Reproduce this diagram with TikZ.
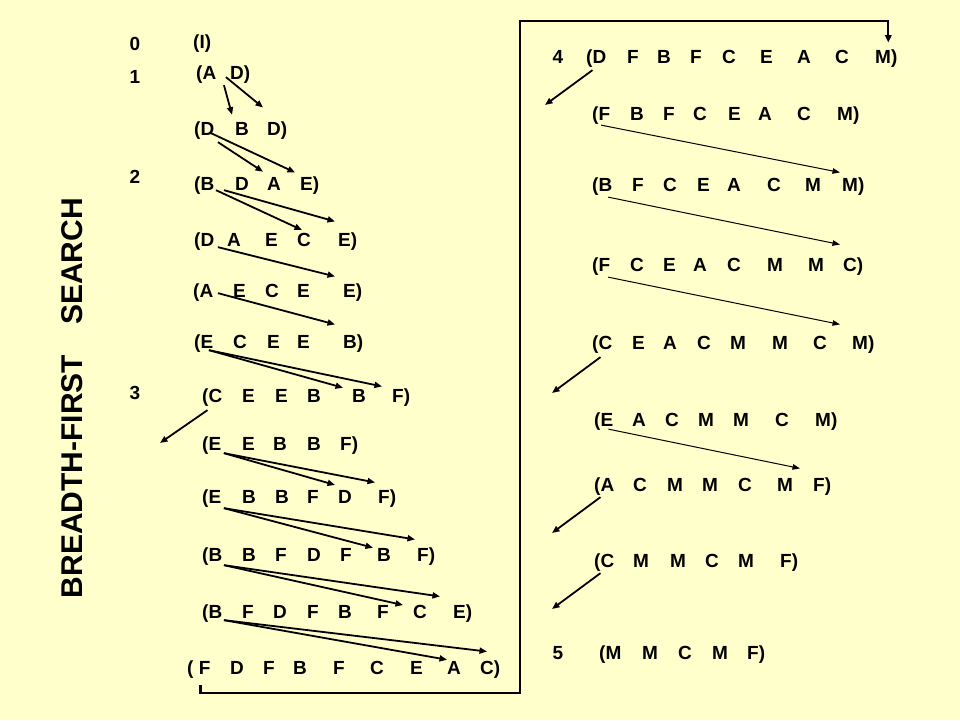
\documentclass[tikz,border=0pt]{standalone}
\usepackage{fontspec}
\setmainfont{Liberation Sans}
\usetikzlibrary{arrows.meta}

\definecolor{slide}{RGB}{255,255,204}

\tikzset{
  letter/.style={inner sep=0pt, anchor=base west, font=\fontsize{19}{21}\selectfont\bfseries},
  level/.style={inner sep=0pt, anchor=base, font=\fontsize{19}{21}\selectfont\bfseries},
  arr/.style={line width=1.8pt, -{Triangle[length=7.5pt,width=6pt]}},
  thinarr/.style={line width=1pt, -{Triangle[length=7.5pt,width=5.5pt]}},
  link/.style={line width=2.2pt, -{Triangle[length=7.5pt,width=6.5pt]}},
}

% one queue: name, baseline, x/letter
\newcommand{\queue}[3]{%
  \foreach \x/\l [count=\i] in {#3}
    \node[letter] (#1-\i) at (\x,#2) {\l};
}

\begin{document}
\begin{tikzpicture}[x=1pt, y=-1pt]
    \useasboundingbox (0,0) rectangle (960,720);
    \fill[slide] (0,0) rectangle (960,720);

    \node[rotate=90, font=\fontsize{30}{32}\selectfont\bfseries] (title) at (72.5,398) {BREADTH-FIRST\quad SEARCH};

    \node[level] (lv0) at (135,50) {0};
    \node[level] (lv1) at (135,83) {1};
    \node[level] (lv2) at (135,183) {2};
    \node[level] (lv3) at (135,399) {3};
    \node[level] (lv4) at (558,63) {4};
    \node[level] (lv5) at (558,659) {5};

    \queue{q0}{48}{193/{(I)}}
    \queue{q1}{79}{196/{(A}, 230/{D)}}
    \queue{q2}{135}{194/{(D}, 235/B, 267/{D)}}
    \queue{q3}{190}{194/{(B}, 235/D, 267/A, 300/{E)}}
    \queue{q4}{246}{194/{(D}, 227/A, 265/E, 297/C, 338/{E)}}
    \queue{q5}{297}{193/{(A}, 233/E, 265/C, 297/E, 343/{E)}}
    \queue{q6}{348}{194/{(E}, 233/C, 267/E, 297/E, 343/{B)}}
    \queue{q7}{402}{202/{(C}, 242/E, 275/E, 307/B, 352/B, 392/{F)}}
    \queue{q8}{450}{202/{(E}, 242/E, 273/B, 307/B, 340/{F)}}
    \queue{q9}{503}{202/{(E}, 242/B, 275/B, 307/F, 338/D, 378/{F)}}
    \queue{q10}{561}{202/{(B}, 242/B, 275/F, 307/D, 340/F, 377/B, 417/{F)}}
    \queue{q11}{618}{202/{(B}, 242/F, 273/D, 307/F, 338/B, 377/F, 413/C, 453/{E)}}
    \queue{q12}{674}{187/{( F}, 230/D, 263/F, 293/B, 333/F, 370/C, 410/E, 447/A, 480/{C)}}

    \queue{p0}{63}{586/{(D}, 627/F, 657/B, 690/F, 722/C, 760/E, 797/A, 835/C, 875/{M)}}
    \queue{p1}{120}{592/{(F}, 630/B, 663/F, 693/C, 728/E, 758/A, 797/C, 837/{M)}}
    \queue{p2}{191}{592/{(B}, 632/F, 663/C, 697/E, 727/A, 767/C, 805/M, 842/{M)}}
    \queue{p3}{271}{592/{(F}, 630/C, 663/E, 693/A, 727/C, 767/M, 808/M, 843/{C)}}
    \queue{p4}{349}{592/{(C}, 632/E, 663/A, 697/C, 730/M, 772/M, 813/C, 852/{M)}}
    \queue{p5}{426}{594/{(E}, 632/A, 665/C, 698/M, 733/M, 775/C, 815/{M)}}
    \queue{p6}{491}{594/{(A}, 633/C, 667/M, 702/M, 738/C, 777/M, 813/{F)}}
    \queue{p7}{567}{594/{(C}, 633/M, 670/M, 705/C, 738/M, 780/{F)}}
    \queue{p8}{659}{599/{(M}, 642/M, 678/C, 712/M, 747/{F)}}

    \coordinate (q7-out) at (160,443);
    \coordinate (p0-out) at (545,105);
    \coordinate (p4-out) at (552,393);
    \coordinate (p6-out) at (552,533);
    \coordinate (p7-out) at (552,609);
    \coordinate (loop) at (520,21);

    \draw[arr] ([shift={(7.5,2)}]q1-1.south east) -- ([shift={(-3,-7)}]q2-2.north west);
    \draw[arr] ([shift={(9.5,-6)}]q1-1.south east) -- ([shift={(-4,-13.5)}]q2-3.north west);
    \draw[arr] ([shift={(-3.5,-6)}]q2-1.south east) -- ([shift={(-5,-3.6)}]q3-4.north west);
    \draw[arr] ([shift={(3.5,3)}]q2-1.south east) -- ([shift={(-4,-5)}]q3-3.north west);
    \draw[arr] ([shift={(1.5,-4)}]q3-1.south east) -- ([shift={(5,-2.5)}]q4-4.north west);
    \draw[arr] ([shift={(9.5,-4)}]q3-1.south east) -- ([shift={(-3,-10.6)}]q4-5.north west);
    \draw[arr] ([shift={(3.5,-3)}]q4-1.south east) -- ([shift={(-8,-6.6)}]q5-5.north west);
    \draw[arr] ([shift={(4.5,-8)}]q5-1.south east) -- ([shift={(-8,-9.6)}]q6-5.north west);
    \draw[arr] ([shift={(-4.5,-2)}]q6-1.south east) -- ([shift={(-9,-1)}]q7-5.north west);
    \draw[arr] ([shift={(-4.5,-2)}]q6-1.south east) -- ([shift={(-10,-1.6)}]q7-6.north west);
    \draw[arr] ([shift={(-4.75,4)}]q7-1.south) -- (q7-out);
    \draw[arr] ([shift={(2.5,-1)}]q8-1.south east) -- ([shift={(-3,-4.8)}]q9-5.north west);
    \draw[arr] ([shift={(2.5,-1)}]q8-1.south east) -- ([shift={(-3,-6.6)}]q9-6.north west);
    \draw[arr] ([shift={(2.5,1)}]q9-1.south east) -- ([shift={(-4,0)}]q10-6.north west);
    \draw[arr] ([shift={(2.5,1)}]q9-1.south east) -- ([shift={(-2,-7.6)}]q10-7.north west);
    \draw[arr] ([shift={(1.5,0)}]q10-1.south east) -- ([shift={(-10,0.5)}]q11-7.north west);
    \draw[arr] ([shift={(1.5,0)}]q10-1.south east) -- ([shift={(-13,-7.6)}]q11-8.north west);
    \draw[arr] ([shift={(1.5,-2)}]q11-1.south east) -- ([shift={(0,-1)}]q12-8.north west);
    \draw[arr] ([shift={(1.5,-2)}]q11-1.south east) -- ([shift={(7,-8.5)}]q12-9.north west);

    \draw[link] ([shift={(1.7,7)}]q12-1.south) -- ++(0,8) -| (loop) -| ([shift={(2,-6.5)}]p0-9.north);

    \draw[arr] ([shift={(-3.75,3)}]p0-1.south) -- (p0-out);
    \draw[thinarr] ([shift={(0,1)}]p1-1.south) -- ([shift={(-2,-4.6)}]p2-8.north west);
    \draw[thinarr] ([shift={(6,2)}]p2-1.south) -- ([shift={(-3,-12.5)}]p3-8.north west);
    \draw[thinarr] ([shift={(7,2)}]p3-1.south) -- ([shift={(-12,-10.6)}]p4-8.north west);
    \draw[arr] ([shift={(-1.75,4)}]p4-1.south) -- (p4-out);
    \draw[thinarr] ([shift={(4.75,-1)}]p5-1.south) -- ([shift={(-13,-8.6)}]p6-7.north west);
    \draw[arr] ([shift={(-3.75,2)}]p6-1.south) -- (p6-out);
    \draw[arr] ([shift={(-3.75,2)}]p7-1.south) -- (p7-out);

  \end{tikzpicture}
\end{document}
